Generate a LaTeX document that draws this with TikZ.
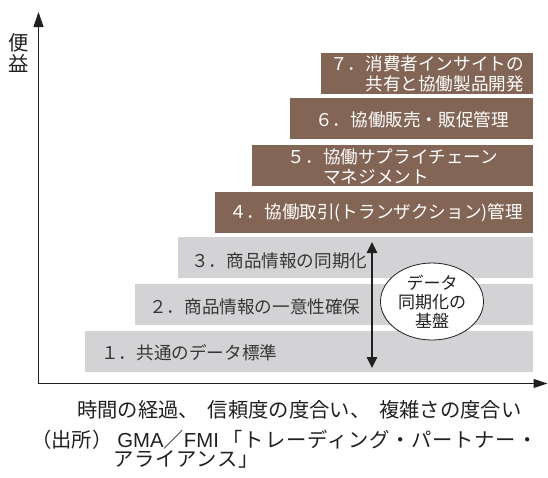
\documentclass[tikz,border=0pt]{standalone}
\usepackage{fontspec}
\setmainfont{Noto Sans CJK JP}
\newfontfamily\latinfont{Liberation Sans}
\newfontfamily\srcfont[LetterSpace=4]{Noto Sans CJK JP}
\usetikzlibrary{shapes.geometric,arrows.meta}
\definecolor{brownbox}{RGB}{131,101,85}
\definecolor{graybox}{RGB}{211,211,213}
\definecolor{ink}{RGB}{35,31,32}
\begin{document}
\begin{tikzpicture}[x=1pt,y=-1pt,
  brbox/.style={fill=brownbox, draw=none, inner sep=0pt, anchor=north west, minimum height=41pt},
  grbox/.style={fill=graybox, draw=none, inner sep=0pt, anchor=north west, minimum height=41pt},
  wtext/.style={text=white, inner sep=0pt, font=\fontsize{17.6}{20}\selectfont},
  gtext/.style={text=ink!90, inner sep=0pt, anchor=west, font=\fontsize{17.6}{20}\selectfont},
  axis/.style={draw=ink, line width=1.1pt},
  lbl/.style={text=ink, inner sep=0pt, font=\fontsize{20.3}{21}\selectfont},
  srclbl/.style={lbl, anchor=west, text height=15pt, text depth=3pt}]
\useasboundingbox (0,0) rectangle (548,477);
% boxes
\node[brbox, minimum width=212pt] (b7) at (321,52.5) {};
\node[brbox, minimum width=243pt] (b6) at (290,98) {};
\node[brbox, minimum width=281pt] (b5) at (252,145) {};
\node[brbox, minimum width=318pt] (b4) at (215,191.5) {};
\node[grbox, minimum width=355pt] (b3) at (178,237) {};
\node[grbox, minimum width=398pt] (b2) at (135,284) {};
\node[grbox, minimum width=448pt] (b1) at (85,330.5) {};
% box texts
\node[wtext, anchor=east] (t7a) at (524,63.5) {７．消費者インサイトの};
\node[wtext, anchor=east] (t7b) at (524,84) {共有と協働製品開発};
\node[wtext] (t6) at (412,119.5) {６．協働販売・販促管理};
\node[wtext] (t5a) at (393,156.5) {５．協働サプライチェーン};
\node[wtext, anchor=west] (t5b) at (323,176.5) {マネジメント};
\node[wtext] (t4) at (376,212.5) {４．協働取引(トランザクション)管理};
\node[gtext] (t3) at (191,260.5) {３．商品情報の同期化};
\node[gtext] (t2) at (149,307) {２．商品情報の一意性確保};
\node[gtext] (t1) at (101,353) {１．共通のデータ標準};
% data sync
\coordinate (dtop) at (372,242);
\coordinate (dbot) at (372,368);
\draw[line width=2.5pt, draw=ink, {Triangle[length=11pt,width=10pt]}-{Triangle[length=11pt,width=10pt]}] (dtop) -- (dbot);
\node[ellipse, draw=ink, line width=0.8pt, fill=white, minimum width=103pt, minimum height=77pt, inner sep=0pt, align=center, text=ink, font=\fontsize{17}{19}\selectfont] (el) at (432,301.5) {データ\\同期化の\\基盤};
% axes
\coordinate (org) at (38.5,383.5);
\coordinate (ytop) at (38.5,12);
\coordinate (xend) at (547.5,383.5);
\draw[axis, {Triangle[length=15pt,width=10pt]}-{Triangle[length=14pt,width=9pt]}] (ytop) -- (org) -- (xend);
% labels
\node[lbl, align=center] (ylab) at (19,53) {便\\益};
\node[lbl, anchor=west] (xlab) at (77,410) {時間の経過、\hspace{9pt}信頼度の度合い、\hspace{9pt}複雑さの度合い};
\node[srclbl] (src1) at (31,441.5) {（出所）\hspace{5pt}{\latinfont GMA}／{\latinfont FMI}\hspace{4pt}{\srcfont 「トレーディング・パートナー・}};
\node[srclbl] (src2) at (113,460.5) {{\srcfont アライアンス」}};
\end{tikzpicture}
\end{document}
